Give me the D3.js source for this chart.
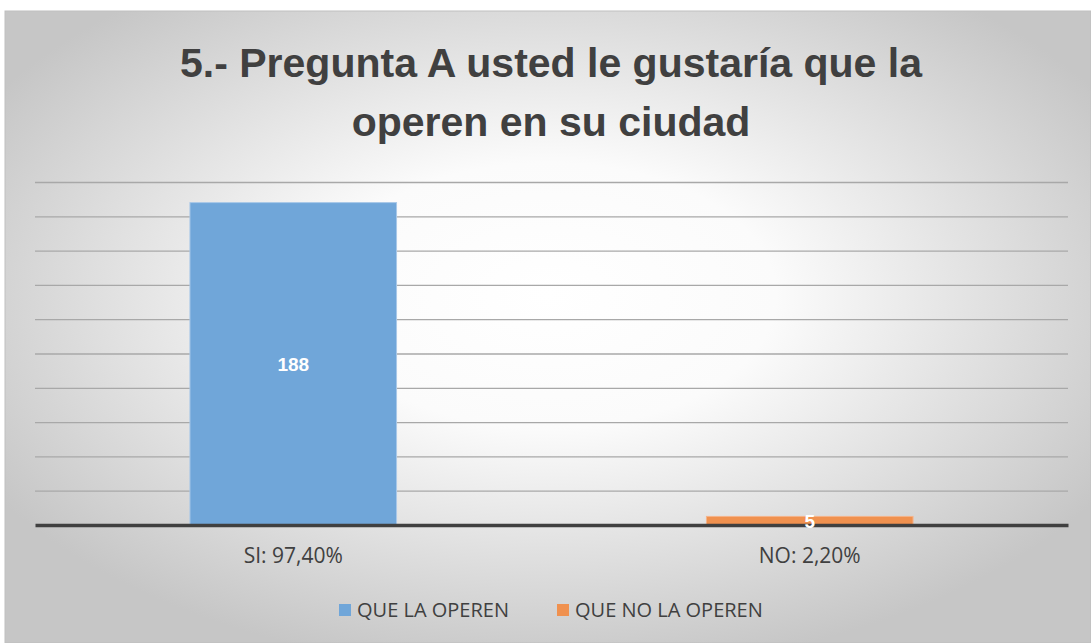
<!DOCTYPE html>
<html>
<head>
<meta charset="utf-8">
<script src="https://cdn.jsdelivr.net/npm/d3@7"></script>
<style>
  body { margin: 0; background: #fff; }
  svg { display: block; }
</style>
</head>
<body>
<div class="chart"></div>
<script>
// data
var categories = ["SI: 97,40%", "NO: 2,20%"];
var values = [188, 5];
var seriesNames = ["QUE LA OPEREN", "QUE NO LA OPEREN"];
var yTicks = [0, 20, 40, 60, 80, 100, 120, 140, 160, 180, 200];
var titleLines = ["5.- Pregunta A usted le gustaría que la", "operen en su ciudad"];

var colors = ["#70a6d9", "#f0914f"];
var font = "'Liberation Sans', sans-serif";
var labelFont = "'Open Sans', 'Liberation Sans', sans-serif";

var svg = d3.select(".chart").append("svg").attr("width", 1091).attr("height", 643),
    margin = {top: 182, right: 23, bottom: 118, left: 35},
    width  = 1091 - margin.left - margin.right,
    height = 643 - margin.top - margin.bottom;

// background gradient
var defs = svg.append("defs");
var grad = defs.append("radialGradient").attr("id", "bg")
    .attr("cx", "50%").attr("cy", "45%").attr("r", "60%");
grad.append("stop").attr("offset", "0%").attr("stop-color", "#ffffff");
grad.append("stop").attr("offset", "35%").attr("stop-color", "#fbfbfb");
grad.append("stop").attr("offset", "100%").attr("stop-color", "#c6c6c6");

svg.append("rect")
    .attr("x", 5).attr("y", 11).attr("width", 1086).attr("height", 632)
    .attr("fill", "url(#bg)")
    .attr("stroke", "#bfbfbf").attr("stroke-width", 1);

// title
svg.append("text")
    .attr("x", 551).attr("y", 77)
    .attr("text-anchor", "middle")
    .style("font-family", font)
    .style("font-weight", "bold")
    .style("font-size", "41px")
    .style("fill", "#404040")
  .selectAll("tspan")
  .data(titleLines)
  .enter().append("tspan")
    .attr("x", 551)
    .attr("dy", (d, i) => i == 0 ? 0 : 59)
    .text(d => d);

var x = d3.scaleBand().domain(categories).range([0, width]).paddingInner(0.6).paddingOuter(0.3);
var y = d3.scaleLinear().domain([0, 200]).range([height, 0]);

var g = svg.append("g").attr("transform", `translate(${margin.left},${margin.top})`);

// gridlines
g.append("g")
    .attr("class", "grid")
    .call(d3.axisLeft(y).tickValues(yTicks.slice(1)).tickSize(-width).tickFormat(""))
    .call(s => s.select(".domain").remove())
    .call(s => s.selectAll("line").attr("stroke", "#a8a8a8").attr("stroke-width", 1.3));

// bars
g.selectAll(".bar")
  .data(values)
  .enter().append("rect")
    .attr("class", "bar")
    .attr("x", (d, i) => x(categories[i]))
    .attr("y", d => y(d))
    .attr("width", x.bandwidth())
    .attr("height", d => height - y(d))
    .attr("fill", (d, i) => colors[i])
    .attr("stroke", (d, i) => i == 0 ? "#a9c8e8" : "#f5b48a")
    .attr("stroke-width", 1);

// x axis
var xAxis = g.append("g")
    .attr("transform", `translate(0,${height})`)
    .call(d3.axisBottom(x).tickSize(0).tickPadding(23));
xAxis.select(".domain").attr("stroke", "#404040").attr("stroke-width", 3.5);
xAxis.selectAll("text")
    .style("font-family", labelFont)
    .style("font-size", "21px")
    .style("fill", "#404040");

// value labels
g.selectAll(".val")
  .data(values)
  .enter().append("text")
    .attr("class", "val")
    .attr("x", (d, i) => x(categories[i]) + x.bandwidth() / 2)
    .attr("y", d => (y(d) + height) / 2 + 7)
    .attr("text-anchor", "middle")
    .style("font-family", font)
    .style("font-weight", "bold")
    .style("font-size", "19px")
    .style("fill", "#ffffff")
    .text(d => d);

// legend
var legend = svg.append("g").attr("transform", "translate(0,610)");
var legX = [339, 557];
seriesNames.forEach((name, i) => {
  legend.append("rect")
      .attr("x", legX[i]).attr("y", -6)
      .attr("width", 12).attr("height", 12)
      .attr("fill", colors[i]);
  legend.append("text")
      .attr("x", legX[i] + 18).attr("y", 7)
      .style("font-family", labelFont)
      .style("font-size", "20px")
      .style("fill", "#404040")
      .text(name);
});
</script>
</body>
</html>
